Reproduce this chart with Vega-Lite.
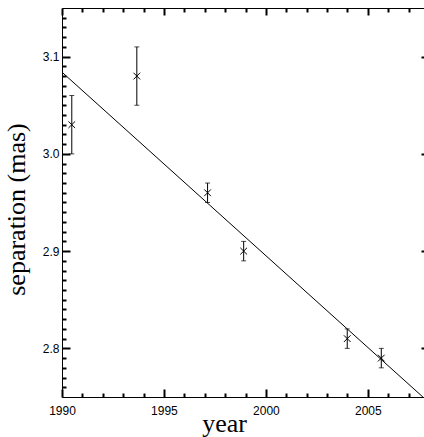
{
  "$schema": "https://vega.github.io/schema/vega-lite/v6.json",
  "width": 367,
  "height": 389,
  "autosize": "none",
  "padding": {"left": 62, "top": 8, "right": 0, "bottom": 40},
  "background": "white",
  "config": {
    "view": {"stroke": null},
    "axis": {
      "labelFont": "Liberation Sans",
      "labelFontSize": 12,
      "labelColor": "black",
      "titleFont": "Liberation Serif",
      "titleFontSize": 26,
      "titleFontWeight": "normal",
      "titleColor": "black",
      "domainColor": "black",
      "tickColor": "black",
      "tickWidth": 2,
      "grid": false,
      "labelFlush": false,
      "labelOverlap": false
    }
  },
  "datasets": {
    "obs": [
      {"year": 1990.48, "sep": 3.03, "lo": 3.00, "hi": 3.06},
      {"year": 1993.67, "sep": 3.08, "lo": 3.05, "hi": 3.11},
      {"year": 1997.14, "sep": 2.96, "lo": 2.95, "hi": 2.97},
      {"year": 1998.91, "sep": 2.90, "lo": 2.89, "hi": 2.91},
      {"year": 2003.99, "sep": 2.81, "lo": 2.80, "hi": 2.82},
      {"year": 2005.66, "sep": 2.79, "lo": 2.78, "hi": 2.80}
    ],
    "fit": [
      {"year": 1990, "sep": 3.084},
      {"year": 2007.7, "sep": 2.75}
    ]
  },
  "layer": [
    {
      "data": {"name": "fit"},
      "mark": {"type": "line", "color": "black", "strokeWidth": 1, "clip": true},
      "encoding": {
        "x": {"field": "year", "type": "quantitative",
          "scale": {"domain": [1990, 2008], "nice": false, "zero": false},
          "axis": {"orient": "bottom", "values": [1990, 1995, 2000, 2005], "tickSize": -8, "labelPadding": 16, "format": "d",
            "title": "year", "titleX": 162, "titleY": 34, "titleBaseline": "alphabetic"}},
        "y": {"field": "sep", "type": "quantitative",
          "scale": {"domain": [2.75, 3.15], "nice": false, "zero": false},
          "axis": {"orient": "left", "values": [2.8, 2.9, 3.0, 3.1], "tickSize": -8, "labelPadding": 11, "format": ".1f",
            "title": "separation (mas)", "titlePadding": 13, "titleY": 201}}
      }
    },
    {
      "data": {"name": "obs"},
      "mark": {"type": "rule", "color": "black", "strokeWidth": 1},
      "encoding": {
        "x": {"field": "year", "type": "quantitative",
          "axis": {"orient": "bottom", "values": [1991, 1992, 1993, 1994, 1996, 1997, 1998, 1999, 2001, 2002, 2003, 2004, 2006, 2007], "tickSize": -4, "labels": false, "domain": false, "title": null}},
        "y": {"field": "lo", "type": "quantitative",
          "axis": {"orient": "left", "values": [2.76, 2.77, 2.78, 2.79, 2.81, 2.82, 2.83, 2.84, 2.85, 2.86, 2.87, 2.88, 2.89, 2.91, 2.92, 2.93, 2.94, 2.95, 2.96, 2.97, 2.98, 2.99, 3.01, 3.02, 3.03, 3.04, 3.05, 3.06, 3.07, 3.08, 3.09, 3.11, 3.12, 3.13, 3.14], "tickSize": -4, "labels": false, "domain": false, "title": null}},
        "y2": {"field": "hi"}
      }
    },
    {
      "data": {"name": "obs"},
      "mark": {"type": "tick", "color": "black", "orient": "horizontal", "size": 5, "thickness": 1},
      "encoding": {
        "x": {"field": "year", "type": "quantitative",
          "axis": {"orient": "top", "values": [1990, 1995, 2000, 2005], "tickSize": -7, "labels": false, "title": null}},
        "y": {"field": "lo", "type": "quantitative",
          "axis": {"orient": "right", "values": [2.8, 2.9, 3.0, 3.1], "tickSize": -8, "labels": false, "title": null}}
      }
    },
    {
      "data": {"name": "obs"},
      "mark": {"type": "tick", "color": "black", "orient": "horizontal", "size": 5, "thickness": 1},
      "encoding": {
        "x": {"field": "year", "type": "quantitative",
          "axis": {"orient": "top", "values": [1991, 1992, 1993, 1994, 1996, 1997, 1998, 1999, 2001, 2002, 2003, 2004, 2006, 2007], "tickSize": -4, "labels": false, "domain": false, "title": null}},
        "y": {"field": "hi", "type": "quantitative",
          "axis": {"orient": "right", "values": [2.76, 2.77, 2.78, 2.79, 2.81, 2.82, 2.83, 2.84, 2.85, 2.86, 2.87, 2.88, 2.89, 2.91, 2.92, 2.93, 2.94, 2.95, 2.96, 2.97, 2.98, 2.99, 3.01, 3.02, 3.03, 3.04, 3.05, 3.06, 3.07, 3.08, 3.09, 3.11, 3.12, 3.13, 3.14], "tickSize": -4, "labels": false, "domain": false, "title": null}}
      }
    },
    {
      "data": {"name": "obs"},
      "mark": {"type": "point", "shape": "M-1,-1L1,1M1,-1L-1,1", "filled": false, "stroke": "black", "strokeWidth": 1, "size": 45, "opacity": 1},
      "encoding": {
        "x": {"field": "year", "type": "quantitative", "axis": null},
        "y": {"field": "sep", "type": "quantitative", "axis": null}
      }
    }
  ],
  "resolve": {"axis": {"x": "independent", "y": "independent"}}
}
